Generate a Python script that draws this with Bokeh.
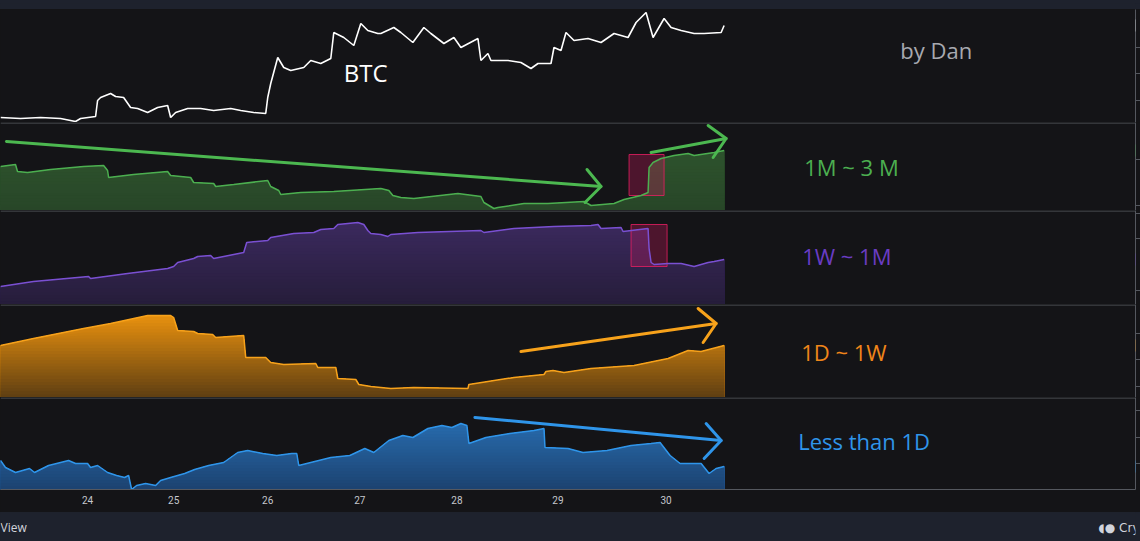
import numpy as np
from bokeh.plotting import figure
from bokeh.layouts import column
from bokeh.models import Range1d, LinearAxis, FixedTicker, Span, Label
from bokeh.embed import file_html
from bokeh.resources import INLINE

# ---------------- data (x = bar index, y = pane value units) ----------------
btc_x = [0, 20, 40, 60, 75, 80, 95, 97, 100, 110, 115, 123, 130, 137, 147, 157, 167, 170, 175, 187,
         200, 213, 230, 240, 253, 265, 267, 270, 277, 283, 290, 303, 310, 320, 330, 333, 343, 353, 360,
         367, 377, 380, 393, 400, 412, 423, 430, 443, 453, 460, 477, 480, 487, 490, 507, 520, 530, 537,
         550, 553, 560, 565, 573, 587, 600, 613, 627, 635, 645, 652, 663, 670, 680, 693, 703, 720, 723]
btc_y = [5, 4, 5, 4, 1, 4, 6, 22, 25, 29, 26, 25, 15, 14, 10, 15, 17, 5, 10, 14,
         14, 12, 14, 12, 10, 9, 25, 39, 65, 55, 52, 55, 62, 59, 64, 90, 85, 77, 99,
         92, 89, 89, 95, 90, 80, 95, 89, 79, 85, 75, 84, 62, 69, 62, 62, 60, 54, 59,
         59, 75, 72, 90, 82, 84, 80, 89, 85, 100, 110, 85, 104, 95, 92, 89, 89, 90, 97]

m1_3_x = [0, 15, 17, 27, 50, 83, 103, 107, 108, 133, 167, 170, 190, 193, 213, 215, 233, 267, 270, 278,
          280, 300, 333, 380, 388, 392, 400, 413, 457, 480, 483, 493, 497, 523, 547, 583, 590, 613, 623,
          640, 647, 648, 652, 660, 673, 687, 693, 713, 723]
m1_3_y = [44, 46, 39, 38, 41, 44, 45, 40, 33, 36, 39, 35, 33, 28, 27, 24, 26, 30, 24, 20,
          16, 18, 19, 22, 20, 15, 13, 12, 17, 14, 8, 2, 3, 7, 7, 9, 5, 7, 11,
          15, 18, 43, 48, 52, 55, 57, 55, 58, 60]

w1_m1_x = [0, 33, 88, 90, 127, 143, 167, 173, 177, 193, 197, 210, 213, 243, 246, 267, 270, 293, 313,
           320, 333, 337, 357, 363, 367, 370, 380, 387, 390, 417, 480, 483, 513, 553, 590, 597, 600,
           620, 622, 647, 648, 650, 653, 667, 680, 693, 707, 713, 723]
w1_m1_y = [18, 23, 28, 26, 31, 33, 36, 38, 42, 46, 48, 49, 46, 52, 62, 64, 67, 71, 72,
           75, 76, 80, 82, 80, 74, 71, 70, 68, 70, 72, 74, 72, 76, 78, 79, 80, 76,
           77, 73, 76, 56, 42, 40, 41, 41, 38, 42, 43, 45]

d1_w1_x = [0, 33, 83, 110, 147, 170, 173, 177, 193, 197, 212, 215, 243, 245, 265, 270, 283, 315, 317,
           335, 337, 355, 358, 370, 380, 390, 413, 467, 468, 513, 543, 545, 552, 563, 590, 633, 667,
           687, 700, 723]
d1_w1_y = [52, 59, 69, 74, 82, 82, 80, 67, 66, 64, 63, 60, 62, 40, 40, 35, 33, 34, 30,
           30, 19, 18, 13, 11, 10, 9, 10, 9, 13, 20, 23, 26, 27, 25, 29, 32, 39,
           47, 46, 52]

lt1d_x = [0, 5, 15, 29, 34, 48, 68, 75, 87, 90, 97, 107, 116, 124, 128, 131, 136, 145, 155, 160, 170,
          184, 194, 208, 223, 237, 247, 262, 276, 291, 296, 298, 310, 330, 349, 364, 373, 388, 402,
          412, 427, 441, 451, 460, 466, 468, 485, 509, 533, 543, 544, 567, 582, 606, 630, 650, 659,
          669, 679, 693, 700, 708, 715, 723]
lt1d_y = [29, 22, 17, 21, 17, 24, 29, 26, 26, 22, 24, 17, 14, 12, 14, 0, 4, 6, 4, 9, 12,
          16, 20, 24, 27, 37, 39, 36, 34, 36, 36, 24, 27, 32, 34, 41, 37, 49, 54,
          52, 61, 64, 62, 66, 64, 46, 52, 56, 59, 61, 42, 41, 37, 39, 44, 46, 47,
          34, 26, 26, 26, 16, 21, 23]

# hand-drawn trend arrows: shaft (start, tip) and head (wing, tip, wing)
green_down_x, green_down_y = [6, 600], [69, 24]
green_down_head_x, green_down_head_y = [586, 600, 584], [41, 24, 8]
green_up_x, green_up_y = [650, 725], [58, 72]
green_up_head_x, green_up_head_y = [707, 725, 712], [85, 72, 53]
orange_up_x, orange_up_y = [520, 715], [46, 74]
orange_up_head_x, orange_up_head_y = [697, 715, 702], [89, 74, 55]
blue_down_x, blue_down_y = [474, 720], [72, 49]
blue_down_head_x, blue_down_head_y = [705, 720, 703], [66, 49, 31]

# highlighted boxes
green_box = dict(left=[628], right=[663], bottom=[15], top=[56])
purple_box = dict(left=[630], right=[666], bottom=[38], top=[80])

# date axis
date_tick_bars = [87, 173, 267, 359, 456, 557, 665]
date_tick_labels = ["24", "25", "26", "27", "28", "29", "30"]

# right price-scale tick marks per pane
btc_ticks = [22, 49, 75]
m1_3_ticks = [5, 51]
w1_m1_ticks = [14, 66, 91]
d1_w1_ticks = [11, 38, 64]
lt1d_ticks = [26, 52, 79]

# ---------------- styling ----------------
BG = "#141417"
NAVY = "#1e222d"
SEP = "#55585f"
FONT = "Open Sans"

xr = Range1d(0, 1134)


def hexrgb(c):
    c = c.lstrip("#")
    return np.array([int(c[i:i + 2], 16) for i in (0, 2, 4)], dtype=float)


def mix(c0, c1, t):
    r = hexrgb(c0) * (1 - t) + hexrgb(c1) * t
    return "#%02x%02x%02x" % tuple(int(round(v)) for v in r)


def make_fig(h, H, ticks=None, bg=BG):
    p = figure(width=1140, height=h, x_range=xr, y_range=Range1d(0, H),
               output_backend="svg", toolbar_location=None,
               x_axis_location=None, y_axis_location=None,
               min_border=0, background_fill_color=bg, border_fill_color=bg,
               styles={"background-color": bg})
    p.outline_line_color = None
    p.xgrid.visible = False
    p.ygrid.visible = False
    if ticks is not None:
        ax = LinearAxis(ticker=FixedTicker(ticks=ticks), major_label_text_font_size="0px",
                        major_tick_out=5, major_tick_in=0, minor_tick_out=0, minor_tick_in=0,
                        axis_line_color=SEP, major_tick_line_color=SEP, major_label_standoff=0)
        p.add_layout(ax, "right")
    return p


def gradient_area(p, xs, ys, H, c_bot, c_top, n=30):
    ys = np.asarray(ys, dtype=float)
    for k in reversed(range(n)):
        hi = H * (k + 1) / n
        p.varea(x=xs, y1=0, y2=np.minimum(ys, hi), fill_color=mix(c_bot, c_top, (k + 0.5) / n))


def sep_line(p, H):
    p.add_layout(Span(location=H - 0.5, dimension="width", line_color=SEP, line_width=1))


def value_tab(p, y, color):
    p.add_layout(Label(x=1135, x_units="screen", y=y, y_units="data", text="-",
                       text_color="white", text_font_size="11px", text_baseline="middle",
                       background_fill_color=color, padding=2))


def caption(p, x, y, text, color, size="22px"):
    p.add_layout(Label(x=x, y=y, text=text, text_color=color, text_font=FONT,
                       text_font_size=size, text_baseline="alphabetic"))


def arrow(p, sx, sy, hx, hy, color):
    p.line(sx, sy, line_color=color, line_width=3, line_cap="round")
    p.line(hx, hy, line_color=color, line_width=3, line_cap="round", line_join="round")


# top band
top = make_fig(9, 9, bg=NAVY)

# pane 1: BTC
p1 = make_fig(113, 113, btc_ticks)
p1.line(btc_x, btc_y, line_color="white", line_width=1.6)
caption(p1, 343, 50, "BTC", "white", "24px")
caption(p1, 899, 73, "by Dan", "#a7a9b0", "22px")
value_tab(p1, btc_y[-1], "#ffffff")

# pane 2: 1M ~ 3M
p2 = make_fig(88, 88, m1_3_ticks)
sep_line(p2, 88)
gradient_area(p2, m1_3_x, m1_3_y, 88, "#284628", "#30592f")
p2.quad(**green_box, fill_color="#c2185b", fill_alpha=0.33, line_color="#e91e63", line_alpha=0.8)
p2.line(m1_3_x, m1_3_y, line_color="#4caf50", line_width=1.5)
arrow(p2, green_down_x, green_down_y, green_down_head_x, green_down_head_y, "#4cb850")
arrow(p2, green_up_x, green_up_y, green_up_head_x, green_up_head_y, "#4cb850")
caption(p2, 803, 44, "1M ~ 3 M", "#4caf50")
value_tab(p2, m1_3_y[-1], "#4caf50")

# pane 3: 1W ~ 1M
p3 = make_fig(94, 94, w1_m1_ticks)
sep_line(p3, 94)
gradient_area(p3, w1_m1_x, w1_m1_y, 94, "#261d3a", "#3e2b63")
p3.quad(**purple_box, fill_color="#c2185b", fill_alpha=0.33, line_color="#e91e63", line_alpha=0.8)
p3.line(w1_m1_x, w1_m1_y, line_color="#7a50d2", line_width=1.5)
caption(p3, 801, 49, "1W ~ 1M", "#6a3cc4")
value_tab(p3, w1_m1_y[-1], "#6a3cc4")

# pane 4: 1D ~ 1W
p4 = make_fig(93, 93, d1_w1_ticks)
sep_line(p4, 93)
gradient_area(p4, d1_w1_x, d1_w1_y, 93, "#5e3e12", "#fb9c0e")
p4.line(d1_w1_x, d1_w1_y, line_color="#f7a21b", line_width=1.5)
arrow(p4, orange_up_x, orange_up_y, orange_up_head_x, orange_up_head_y, "#f7a21b")
caption(p4, 800, 46, "1D ~ 1W", "#f0861a")
value_tab(p4, d1_w1_y[-1], "#f79a1a")

# pane 5: Less than 1D (+ date axis)
p5 = make_fig(115, 92, lt1d_ticks)
p5.min_border_bottom = 23
sep_line(p5, 92)
gradient_area(p5, lt1d_x, lt1d_y, 92, "#1c4270", "#2c7bc4")
p5.line(lt1d_x, lt1d_y, line_color="#2f95ea", line_width=1.5)
arrow(p5, blue_down_x, blue_down_y, blue_down_head_x, blue_down_head_y, "#2f95ea")
caption(p5, 797, 49, "Less than 1D", "#2f95ea")
value_tab(p5, lt1d_y[-1], "#2196f3")
xax = LinearAxis(ticker=FixedTicker(ticks=date_tick_bars),
                 major_label_overrides={t: l for t, l in zip(date_tick_bars, date_tick_labels)},
                 major_tick_out=0, major_tick_in=0, minor_tick_out=0, minor_tick_in=0,
                 axis_line_color=SEP, major_label_standoff=6,
                 major_label_text_font="Liberation Sans Narrow, Roboto",
                 major_label_text_font_size="10px", major_label_text_color="#c5c7cd")
p5.add_layout(xax, "below")

# bottom bar
bot = make_fig(29, 29, bg=NAVY)
bot.add_layout(Label(x=0, y=14, text="View", text_color="#d1d4dc", text_font=FONT,
                     text_font_size="12px", text_baseline="middle"))
bot.add_layout(Label(x=1097, y=14, text="◖● Cry", text_color="#d1d4dc", text_font="DejaVu Sans",
                     text_font_size="12px", text_baseline="middle"))

layout = column(top, p1, p2, p3, p4, p5, bot, spacing=0, styles={"background-color": BG})
open("out.html", "w").write(file_html(layout, INLINE))
